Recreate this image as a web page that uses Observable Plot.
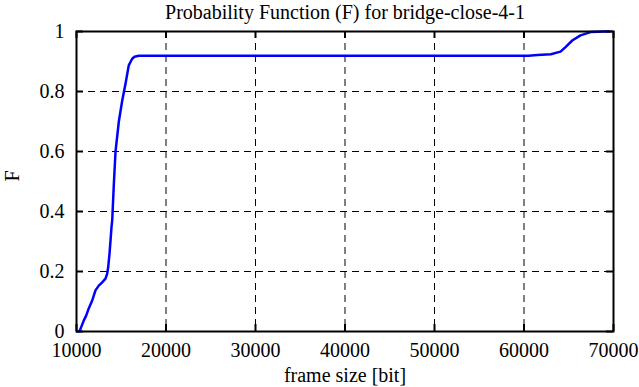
<!DOCTYPE html>
<html>
<head>
<meta charset="utf-8">
<script src="https://cdn.jsdelivr.net/npm/d3@7"></script>
<script src="https://cdn.jsdelivr.net/npm/@observablehq/plot@0.6"></script>
<style>
  html, body { margin: 0; padding: 0; background: #fff; }
  #chart svg, #chart svg text { font-family: "Liberation Serif", "DejaVu Serif", serif !important; }
</style>
</head>
<body>
<div id="chart"></div>
<script>
const title = "Probability Function (F) for bridge-close-4-1";
const xLabel = "frame size [bit]";
const yLabel = "F";
const xTicks = [10000, 20000, 30000, 40000, 50000, 60000, 70000];
const yTicks = [0, 0.2, 0.4, 0.6, 0.8, 1];
const yTickLabels = ["0", "0.2", "0.4", "0.6", "0.8", "1"];

const frameSize = [10220, 10370, 10820, 11080, 11370, 11750, 12120, 12490, 12870, 13240, 13430, 13540, 13690, 13800, 13910, 13990, 14170, 14360, 14730, 15110, 15480, 15840, 16220, 16480, 16960, 40000, 60500, 61500, 63000, 64080, 64640, 65390, 66310, 67430, 68880, 69500];
const probF   = [0, 0.003, 0.037, 0.053, 0.077, 0.103, 0.137, 0.153, 0.164, 0.176, 0.193, 0.214, 0.26, 0.303, 0.348, 0.37, 0.49, 0.60, 0.70, 0.77, 0.827, 0.887, 0.909, 0.916, 0.919, 0.919, 0.919, 0.922, 0.924, 0.933, 0.948, 0.97, 0.987, 0.998, 1.0, 1.0];

const data = frameSize.map((x, i) => ({x, F: probF[i]}));

const W = 639, H = 387;
const mTop = 31, mBottom = 56, mLeft = 76, mRight = 26;
const fw = W - mLeft - mRight, fh = H - mTop - mBottom;
const tick = 7;
const fs = 20;

const chart = Plot.plot({
  width: W,
  height: H,
  marginTop: mTop,
  marginBottom: mBottom,
  marginLeft: mLeft,
  marginRight: mRight,
  style: "font-family: 'Liberation Serif', 'DejaVu Serif', serif; font-size: 20px; color: #000; background: #fff;",
  x: {domain: [10000, 70000], ticks: xTicks},
  y: {domain: [0, 1], ticks: yTicks},
  marks: [
    // dashed grid
    Plot.ruleX(xTicks.slice(1, -1), {stroke: "#000", strokeWidth: 1, strokeDasharray: "7,5"}),
    Plot.ruleY(yTicks.slice(1, -1), {stroke: "#000", strokeWidth: 1, strokeDasharray: "7,5"}),
    // inward ticks on all four sides
    Plot.ruleX(xTicks, {stroke: "#000", strokeWidth: 2, insetTop: fh - tick}),
    Plot.ruleX(xTicks, {stroke: "#000", strokeWidth: 2, insetBottom: fh - tick}),
    Plot.ruleY(yTicks, {stroke: "#000", strokeWidth: 2, insetRight: fw - tick}),
    Plot.ruleY(yTicks, {stroke: "#000", strokeWidth: 2, insetLeft: fw - tick}),
    // curve
    Plot.line(data, {x: "x", y: "F", stroke: "#0000ff", strokeWidth: 2.5}),
    Plot.frame({stroke: "#000", strokeWidth: 2}),
    // tick labels
    Plot.axisX(xTicks, {tickSize: 0, tickPadding: 11, tickFormat: d => String(d), fontSize: fs, label: null}),
    Plot.axisY(yTicks, {tickSize: 0, tickPadding: 12, tickFormat: (d, i) => yTickLabels[i], fontSize: fs, label: null}),
    // titles
    Plot.text([title], {frameAnchor: "top", dy: -19, lineAnchor: "middle", fontSize: fs, fill: "#000"}),
    Plot.text([xLabel], {frameAnchor: "bottom", dy: 44, lineAnchor: "middle", fontSize: fs, fill: "#000"}),
    Plot.text([yLabel], {frameAnchor: "left", dx: -64, rotate: -90, lineAnchor: "middle", fontSize: fs, fill: "#000"})
  ]
});
document.getElementById("chart").appendChild(chart);
</script>
</body>
</html>
